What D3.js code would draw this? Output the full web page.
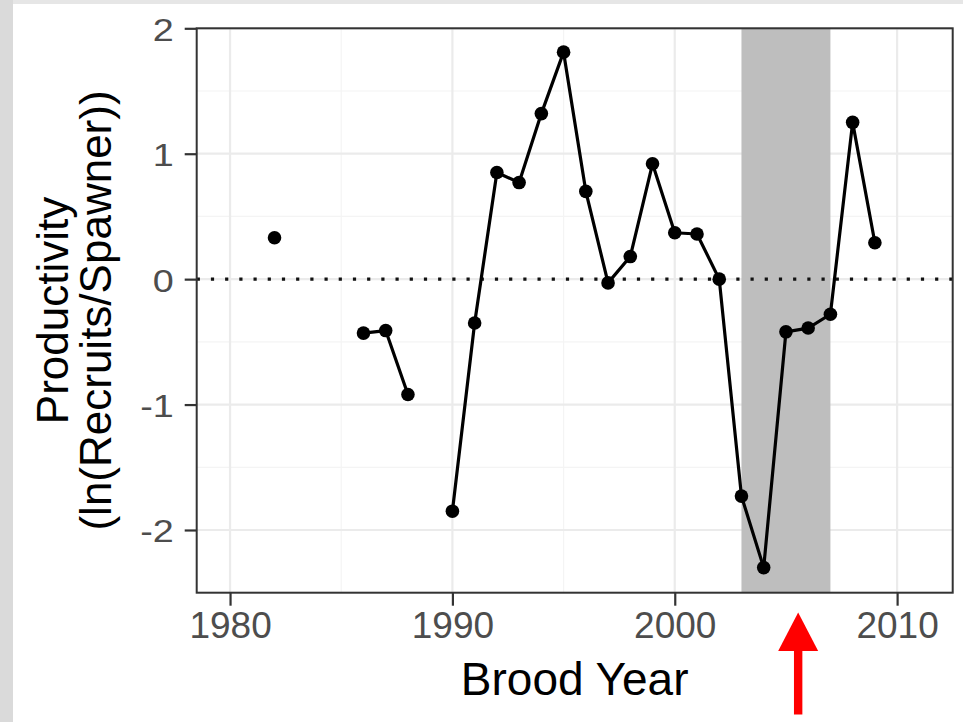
<!DOCTYPE html>
<html>
<head>
<meta charset="utf-8">
<script src="https://cdn.jsdelivr.net/npm/d3@7"></script>
<style>
  html, body { margin: 0; padding: 0; background: #ffffff; }
  svg { display: block; }
  text { font-family: "Liberation Sans", Arial, Helvetica, sans-serif; }
</style>
</head>
<body>
<svg id="chart" width="963" height="722"></svg>
<script>
// Brood years and productivity, ln(recruits/spawner); null = no estimate
const years = [1982, 1983, 1984, 1985, 1986, 1987, 1988, 1989, 1990, 1991,
               1992, 1993, 1994, 1995, 1996, 1997, 1998, 1999, 2000, 2001,
               2002, 2003, 2004, 2005, 2006, 2007, 2008, 2009];
const productivity = [0.33, null, null, null, -0.43, -0.41, -0.92, null, -1.85, -0.35,
                      0.85, 0.77, 1.32, 1.81, 0.70, -0.03, 0.18, 0.92, 0.37, 0.36,
                      0.00, -1.73, -2.30, -0.42, -0.39, -0.28, 1.25, 0.29];
// Highlighted period of brood years
const shadedPeriod = [2003, 2007];
// Arrow marks this year below the axis
const arrowYear = 2005.55;
const xTicks = [1980, 1990, 2000, 2010];
const xMinor = [1985, 1995, 2005];
const yTicks = [-2, -1, 0, 1, 2];
const yMinor = [-2.5, -1.5, -0.5, 0.5, 1.5];

const svg = d3.select("#chart");
const W = 963, H = 722;
const panel = { left: 196.7, right: 952.7, top: 28.3, bottom: 592.7 };

// light frame strips along the top and left edges
svg.append("rect").attr("x", 0).attr("y", 0).attr("width", W).attr("height", 4).attr("fill", "#e6e6e6");
svg.append("rect").attr("x", 0).attr("y", 0).attr("width", 13).attr("height", H).attr("fill", "#dadada");

const x = d3.scaleLinear().domain([1978.5, 2012.5]).range([panel.left, panel.right]);
const y = d3.scaleLinear().domain([-2.5, 2]).range([panel.bottom, panel.top]);

// plain hyphen for negative tick labels
const fmt = d => d3.format("d")(d).replace("\u2212", "-");

const g = svg.append("g");

// grid
g.selectAll("line.xminor").data(xMinor).join("line")
  .attr("x1", d => x(d)).attr("x2", d => x(d)).attr("y1", panel.top).attr("y2", panel.bottom)
  .attr("stroke", "#f4f4f4").attr("stroke-width", 1.2);
g.selectAll("line.yminor").data(yMinor).join("line")
  .attr("x1", panel.left).attr("x2", panel.right).attr("y1", d => y(d)).attr("y2", d => y(d))
  .attr("stroke", "#f4f4f4").attr("stroke-width", 1.2);
g.selectAll("line.xmajor").data(xTicks).join("line")
  .attr("x1", d => x(d)).attr("x2", d => x(d)).attr("y1", panel.top).attr("y2", panel.bottom)
  .attr("stroke", "#ebebeb").attr("stroke-width", 2.2);
g.selectAll("line.ymajor").data(yTicks).join("line")
  .attr("x1", panel.left).attr("x2", panel.right).attr("y1", d => y(d)).attr("y2", d => y(d))
  .attr("stroke", "#ebebeb").attr("stroke-width", 2.2);

// shaded period
g.append("rect")
  .attr("x", x(shadedPeriod[0])).attr("y", panel.top)
  .attr("width", x(shadedPeriod[1]) - x(shadedPeriod[0]))
  .attr("height", panel.bottom - panel.top)
  .attr("fill", "#bebebe");

// zero reference line
g.append("line")
  .attr("x1", panel.left).attr("x2", panel.right).attr("y1", y(0)).attr("y2", y(0))
  .attr("stroke", "#111").attr("stroke-width", 3.2).attr("stroke-dasharray", "3.2,11");

const data = years.map((yr, i) => ({ year: yr, value: productivity[i] }));

const line = d3.line()
  .defined(d => d.value !== null)
  .x(d => x(d.year)).y(d => y(d.value));

g.append("path").datum(data)
  .attr("d", line).attr("fill", "none")
  .attr("stroke", "#000").attr("stroke-width", 3.2).attr("stroke-linejoin", "round");

g.selectAll("circle.pt").data(data.filter(d => d.value !== null)).join("circle")
  .attr("cx", d => x(d.year)).attr("cy", d => y(d.value)).attr("r", 6.8)
  .attr("fill", "#000");

// panel border
g.append("rect")
  .attr("x", panel.left).attr("y", panel.top)
  .attr("width", panel.right - panel.left).attr("height", panel.bottom - panel.top)
  .attr("fill", "none").attr("stroke", "#333").attr("stroke-width", 2);

// x axis
const xAxis = svg.append("g").attr("transform", `translate(0,${panel.bottom})`)
  .call(d3.axisBottom(x).tickValues(xTicks).tickFormat(fmt).tickSize(13).tickPadding(6));
xAxis.select(".domain").remove();
xAxis.selectAll(".tick line").attr("stroke", "#333").attr("stroke-width", 2.2);
xAxis.selectAll(".tick text").attr("fill", "#4d4d4d").attr("font-size", 37)
  .attr("font-family", "Liberation Sans, Arial, sans-serif");

// y axis
const yAxis = svg.append("g").attr("transform", `translate(${panel.left},0)`)
  .call(d3.axisLeft(y).tickValues(yTicks).tickFormat(fmt).tickSize(12).tickPadding(0));
yAxis.select(".domain").remove();
yAxis.selectAll(".tick line").attr("stroke", "#333").attr("stroke-width", 2.2);
yAxis.selectAll(".tick text").remove();
yAxis.selectAll(".tick").append("text")
  .attr("transform", "translate(-23,0) scale(1.18,1)")
  .attr("x", 0).attr("y", 12)
  .attr("text-anchor", "end")
  .attr("fill", "#4d4d4d").attr("font-size", 32)
  .attr("font-family", "Liberation Sans, Arial, sans-serif")
  .text(fmt);

// axis titles
svg.append("text")
  .attr("x", (panel.left + panel.right) / 2).attr("y", 695)
  .attr("text-anchor", "middle").attr("font-size", 46).attr("fill", "#000")
  .text("Brood Year");

const yc = (panel.top + panel.bottom) / 2;
svg.append("text")
  .attr("transform", `translate(68,${yc}) rotate(-90)`)
  .attr("text-anchor", "middle").attr("font-size", 44).attr("fill", "#000")
  .text("Productivity");
svg.append("text")
  .attr("transform", `translate(111,${yc}) rotate(-90)`)
  .attr("text-anchor", "middle").attr("font-size", 44).attr("fill", "#000")
  .text("(ln(Recruits/Spawner))");

// red arrow pointing up at the axis
const ax = x(arrowYear);
const arrow = svg.append("g").attr("fill", "#ff0000");
arrow.append("path")
  .attr("d", `M${ax},612.5 L${ax - 20},651 L${ax + 20},651 Z`);
arrow.append("rect")
  .attr("x", ax - 4.2).attr("y", 650).attr("width", 8.4).attr("height", 64.5);
</script>
</body>
</html>
